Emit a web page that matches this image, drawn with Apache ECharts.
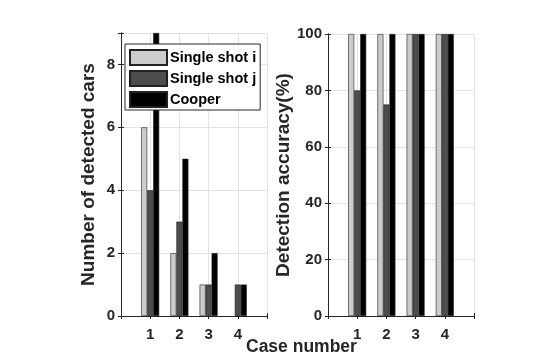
<!DOCTYPE html>
<html><head><meta charset="utf-8">
<script src="https://cdn.jsdelivr.net/npm/echarts@6/dist/echarts.min.js"></script>
<style>html,body{margin:0;padding:0;background:#fff}#c{width:539px;height:361px}</style>
</head><body><div id="c"></div>
<script>
const cases = [1, 2, 3, 4];
const seriesNames = ['Single shot i', 'Single shot j', 'Cooper'];
const carsI = [6, 2, 1, 0];
const carsJ = [4, 3, 1, 1];
const carsCooper = [9, 5, 2, 1];
const accI = [100, 100, 100, 100];
const accJ = [80, 75, 100, 100];
const accCooper = [100, 100, 100, 100];
const colors = ['#cccccc', '#4d4d4d', '#000000'];

const FONT = 'Liberation Sans, Arial, sans-serif';
const TXT = '#262626';
const chart = echarts.init(document.getElementById('c'));

function xAx(gi, pos, show) {
  return {
    type: 'value', gridIndex: gi, min: 0, max: 5, interval: 1, position: pos,
    axisLine: { show: true, lineStyle: { color: TXT, width: 1 } },
    axisTick: { show: true, inside: true, length: 3, lineStyle: { color: TXT } },
    axisLabel: { show: show, margin: 11, color: TXT, fontFamily: FONT, fontWeight: 'bold', fontSize: 15,
      formatter: v => (v >= 1 && v <= 4) ? String(v) : '' },
    splitLine: { show: show, lineStyle: { color: '#e3e3e3', width: 1 } }
  };
}
function yAx(gi, pos, show, max, interval, name, gap) {
  return {
    type: 'value', gridIndex: gi, min: 0, max: max, interval: interval, position: pos,
    name: show ? name : '', nameLocation: 'middle', nameGap: gap,
    nameTextStyle: { color: TXT, fontFamily: FONT, fontWeight: 'bold', fontSize: 19 },
    axisLine: { show: true, lineStyle: { color: TXT, width: 1 } },
    axisTick: { show: true, inside: true, length: 3, lineStyle: { color: TXT } },
    axisLabel: { show: show, margin: 6, color: TXT, fontFamily: FONT, fontWeight: 'bold', fontSize: 15,
      formatter: v => (v % interval === 0) ? String(v) : '' },
    splitLine: { show: show, lineStyle: { color: '#e3e3e3', width: 1 } }
  };
}
function pairs(vals) {
  return vals.map((v, i) => v === 0
    ? { value: [cases[i], v], itemStyle: { borderWidth: 0, opacity: 0 } }
    : [cases[i], v]);
}
function bar(name, vals, xi, yi, ci) {
  return {
    type: 'bar', name: name, xAxisIndex: xi, yAxisIndex: yi,
    data: pairs(vals), barWidth: 6, barGap: '0%',
    itemStyle: { color: colors[ci], borderColor: '#222', borderWidth: 0.6 },
    emphasis: { disabled: true }, animation: false
  };
}

chart.setOption({
  animation: false,
  grid: [
    { left: 121, right: 272, top: 33, bottom: 45 },
    { left: 328, right: 65, top: 34, bottom: 45 }
  ],
  xAxis: [xAx(0, 'bottom', true), xAx(0, 'top', false), xAx(1, 'bottom', true), xAx(1, 'top', false)],
  yAxis: [
    yAx(0, 'left', true, 9, 2, 'Number of detected cars', 23),
    yAx(0, 'right', false, 9, 2, '', 0),
    yAx(1, 'left', true, 100, 20, 'Detection accuracy(%)', 28),
    yAx(1, 'right', false, 100, 20, '', 0)
  ],
  legend: {
    data: seriesNames.map(n => ({ name: n, icon: 'rect' })), orient: 'vertical', left: 125, top: 44,
    padding: [5, 4, 2, 4], itemGap: 4, itemWidth: 37, itemHeight: 15,
    backgroundColor: '#fff', borderColor: TXT, borderWidth: 1, borderRadius: 0,
    textStyle: { color: '#000', fontFamily: FONT, fontWeight: 'bold', fontSize: 14.5, padding: [0, 0, 0, -2] },
    selectedMode: false
  },
  graphic: [{
    type: 'text', left: 246, top: 338,
    style: { text: 'Case number', fill: TXT, font: 'bold 17.5px ' + FONT }
  }],
  series: [
    bar(seriesNames[0], carsI, 0, 0, 0),
    bar(seriesNames[1], carsJ, 0, 0, 1),
    bar(seriesNames[2], carsCooper, 0, 0, 2),
    bar(seriesNames[0], accI, 2, 2, 0),
    bar(seriesNames[1], accJ, 2, 2, 1),
    bar(seriesNames[2], accCooper, 2, 2, 2)
  ]
});
</script></body></html>
